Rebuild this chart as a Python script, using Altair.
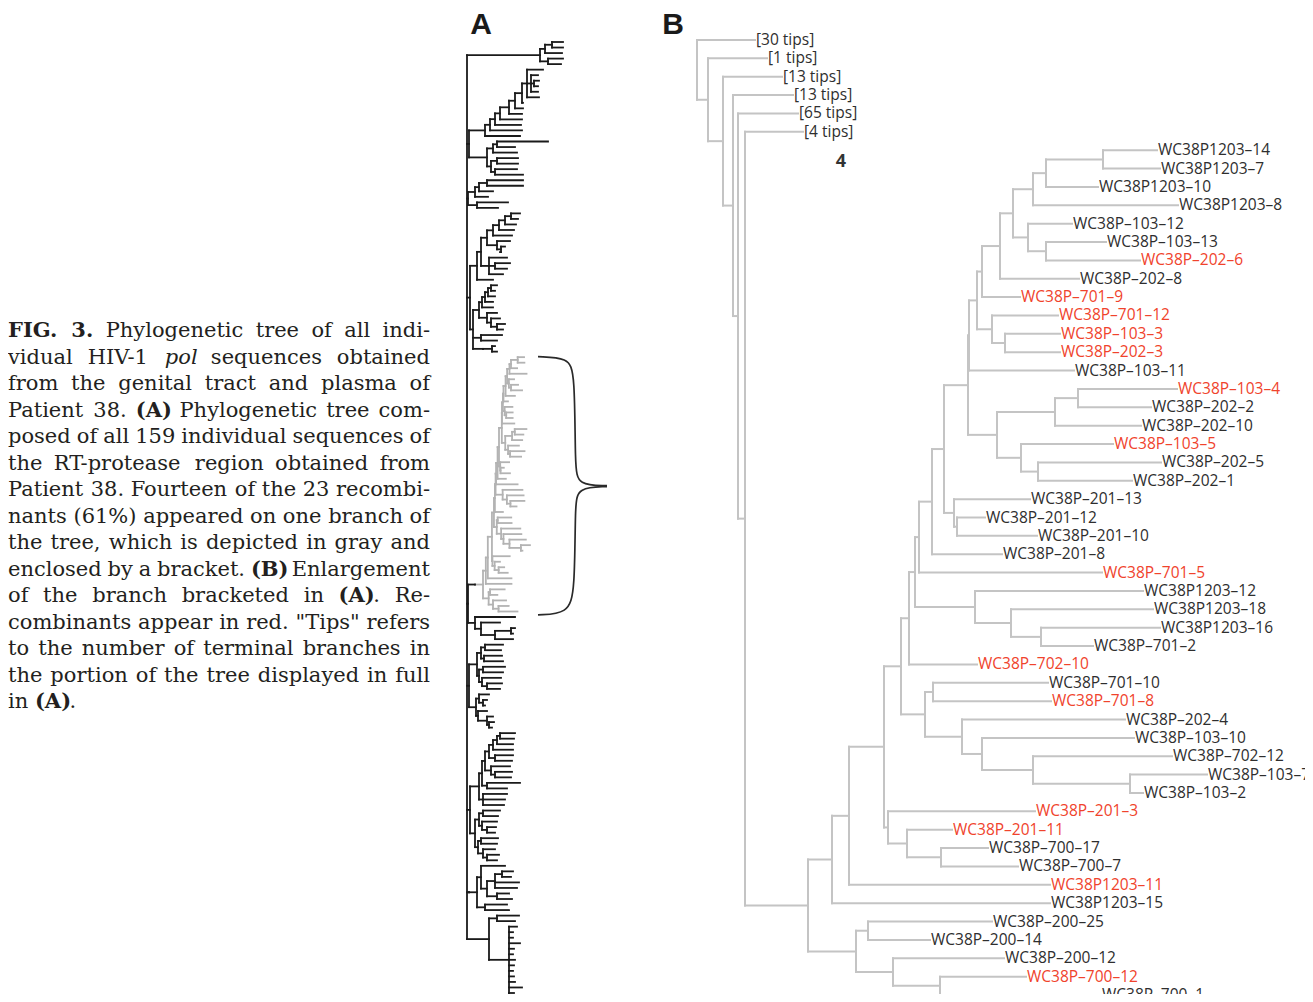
import altair as alt
import pandas as pd

# ======================= caption text =======================
# '*' toggles bold, '_' toggles italic
CAPTION_LINES = [
    "*FIG. 3.* Phylogenetic tree of all indi-",
    "vidual HIV-1 _pol_ sequences obtained",
    "from the genital tract and plasma of",
    "Patient 38. *(A)* Phylogenetic tree com-",
    "posed of all 159 individual sequences of",
    "the RT-protease region obtained from",
    "Patient 38. Fourteen of the 23 recombi-",
    "nants (61%) appeared on one branch of",
    "the tree, which is depicted in gray and",
    "enclosed by a bracket. *(B)* Enlargement",
    "of the branch bracketed in *(A)*. Re-",
    "combinants appear in red. \"Tips\" refers",
    "to the number of terminal branches in",
    "the portion of the tree displayed in full",
    "in *(A)*.",
]

# ======================= panel B =======================
B_COLLAPSED_LABELS = ["[30 tips]", "[1 tips]", "[13 tips]", "[13 tips]", "[65 tips]", "[4 tips]"]
B_COLLAPSED_DEPTH = [755, 767, 782, 793, 798, 803]

B_TIP_NAMES = [
    "WC38P1203-14", "WC38P1203-7", "WC38P1203-10", "WC38P1203-8", "WC38P-103-12",
    "WC38P-103-13", "WC38P-202-6", "WC38P-202-8", "WC38P-701-9", "WC38P-701-12",
    "WC38P-103-3", "WC38P-202-3", "WC38P-103-11", "WC38P-103-4", "WC38P-202-2",
    "WC38P-202-10", "WC38P-103-5", "WC38P-202-5", "WC38P-202-1", "WC38P-201-13",
    "WC38P-201-12", "WC38P-201-10", "WC38P-201-8", "WC38P-701-5", "WC38P1203-12",
    "WC38P1203-18", "WC38P1203-16", "WC38P-701-2", "WC38P-702-10", "WC38P-701-10",
    "WC38P-701-8", "WC38P-202-4", "WC38P-103-10", "WC38P-702-12", "WC38P-103-7",
    "WC38P-103-2", "WC38P-201-3", "WC38P-201-11", "WC38P-700-17", "WC38P-700-7",
    "WC38P1203-11", "WC38P1203-15", "WC38P-200-25", "WC38P-200-14", "WC38P-200-12",
    "WC38P-700-12", "WC38P-700-1",
]
B_TIP_DEPTH = [1157, 1160, 1098, 1178, 1072, 1106, 1140, 1079, 1020, 1058,
               1060, 1060, 1074, 1177, 1151, 1141, 1113, 1161, 1132, 1030,
               985, 1037, 1002, 1102, 1143, 1153, 1160, 1093, 977, 1048,
               1051, 1125, 1134, 1172, 1207, 1143, 1035, 952, 988, 1018,
               1050, 1050, 992, 930, 1004, 1026, 1101]
B_RECOMBINANT = [0, 0, 0, 0, 0, 0, 1, 0, 1, 1,
                 1, 1, 0, 1, 0, 0, 1, 0, 0, 0,
                 0, 0, 0, 1, 0, 0, 0, 0, 1, 0,
                 1, 0, 0, 0, 0, 0, 1, 1, 0, 0,
                 1, 0, 0, 0, 0, 1, 0]

# node = [node depth, children...]; int leaf = tip number (1-based)
B_CLADE = [808,
  [832,
    [849,
      [884,
        [901,
          [909,
            [915,
              [919,
                [932,
                  [944,
                    [968,
                      [969,
                        [977,
                          [982,
                            [1000,
                              [1013,
                                [1033, [1046, [1103, 1, 2], 3], 4],
                                [1028, 5, [1046, 6, 7]]],
                              8],
                            9],
                          [992, 10, [1005, 11, 12]]],
                        13],
                      [997, [1055, [1078, 14, 15], 16], [1021, 17, [1038, 18, 19]]]],
                    [954, 20, [957, 21, 22]]],
                  23],
                24],
              [975, 25, [1011, 26, [1041, 27, 28]]]],
            29],
          [925, [933, 30, 31], [962, 32, [982, 33, [1033, 34, [1130, 35, 36]]]]]],
        [888, 37, [907, 38, [941, 39, 40]]]],
      41],
    42],
  [856, [868, 43, 44], [893, 45, [940, 46, 47]]]]
B_TREE = [697, "c0", [708, "c1", [723, "c2", [733, "c3", [738, "c4", [745, "c5", B_CLADE]]]]]]

# ======================= panel A =======================
# node = [node depth, children...]; numeric leaf = tip end depth; "GRAY" = clade of panel B
A_TOP = [73, [78, [85, 96, 96], 95], [81, 96, 94]]
A_S2 = [60, 76, [64, 71, [67, 72, 71], 71], 72]
A_L = [18, [23, [28, [33, [42, [48, [55, A_S2, 56], 56], 55], 55], 54], 55], 53]
A_M1 = [20, [26, [30, 81, 48], 50], [24, [30, 51, 51], [28, 50, 56]]]
A_X6a = [8, [12, [20, 56, 56], 26], 21]
A_X6b = [10, 41, 31]
A_M2 = [10, [14, [20, [26, [32, [38, [44, 53, 51], 49], 47], 45], [30, 43, [34, 38, 33]]],
             [22, 40, [28, 43, 40], 36]], 26]
A_M3 = [6, [12, [15, [18, [21, [24, 30, 28], 28], 26], 26], [20, 30, [24, 33, [30, 38, 36]]]],
        [14, 35, 30], [16, [25, 28, 30]]]
A_C1 = [8, 48, [14, 33, [28, [44, 48, 46], 46]]]
A_C2 = [10, [14, [18, 36, 34], [17, 35, 36]], [12, [16, 38, 36], [15, 34, [20, 35, 33]]]]
A_C3 = [9, [12, 22, [16, 20, 18]], [11, 20, [20, 26, [22, 27, 25]]]]
A_C4 = [12, [15, [18, [22, [26, [30, [33, 48, 47], 46], 46], [28, 46, 45]], [24, 43, [28, 45, 44]]],
             [20, 53, 40]], [16, 40, 38, 37]]
A_C5 = [8, [12, [16, 33, 31], [15, 30, [20, 29, 28]]], [11, [14, 31, 30], [16, 28, [20, 32, 30]]]]
A_C6 = [10, [14, 38, [20, [28, [35, 46, 44], 52, 50], [30, 42, 45]]], [18, 40, 42]]
A_C7 = [22, [30, 52, 48], [42, 50, 46, 46, 53, 47, 46, 48, 47, 46, 47, 48, 55, 47]]
A_TREE = [0, A_TOP, [2, A_L, A_M1], [1, A_X6a, A_X6b], [3, A_M2, A_M3],
          [1, [8, "GRAY"], A_C1], [2, A_C2, A_C3], [3, A_C4, A_C5], [2, A_C6], A_C7]
# panel A draws the B clade at 1/8.5 of B's horizontal scale, rooted at depth 16
A_GRAY_ROOT, B_CLADE_ROOT, A_TO_B = 16, 808, 8.5

BRACKET_DEPTH = [71, 101, 108, 108, 111, 140, 140, 111, 108, 108, 101, 71]
BRACKET_ROW = [56.9, 57.1, 59.8, 77.0, 80.1, 80.25, 80.4, 80.6, 83.5, 99.3, 103.4, 103.6]
BRACKET_HALF = [0] * 6 + [1] * 6

# ======================= helpers =======================
def layout(tree, leaf, segs, leaves, st, grp="black"):
    if tree == "GRAY":
        return layout(to_a(B_CLADE), leaf, segs, leaves, st, "gray")
    if isinstance(tree, list):
        nx = tree[0]
        kids = [layout(c, leaf, segs, leaves, st, grp) for c in tree[1:]]
        ys = [k[1] for k in kids]
        segs.append(dict(x=nx, x2=nx, y=min(ys), y2=max(ys), grp=grp))
        for kx, ky, kg in kids:
            segs.append(dict(x=nx, x2=kx, y=ky, y2=ky, grp=kg))
        return nx, (ys[0] + ys[-1]) / 2.0, grp
    y = st[0]
    st[0] += 1
    rec = leaf(tree)
    rec["y"] = y
    leaves.append(rec)
    return rec["x"], y, grp


def to_a(node):
    if isinstance(node, list):
        return [A_GRAY_ROOT + (node[0] - B_CLADE_ROOT) / A_TO_B] + [to_a(c) for c in node[1:]]
    return A_GRAY_ROOT + (B_TIP_DEPTH[node - 1] - B_CLADE_ROOT) / A_TO_B


def b_leaf(v):
    if isinstance(v, str):
        i = int(v[1:])
        return dict(x=B_COLLAPSED_DEPTH[i], label=B_COLLAPSED_LABELS[i], kind="collapsed", rec="no")
    return dict(x=B_TIP_DEPTH[v - 1], label=B_TIP_NAMES[v - 1].replace("-", "\u2013"),
                kind="tip", rec="yes" if B_RECOMBINANT[v - 1] else "no")


def a_leaf(v):
    return dict(x=v)


segB, leavesB = [], []
layout(B_TREE, b_leaf, segB, leavesB, [0])
segA, leavesA = [], []
layout(A_TREE, a_leaf, segA, leavesA, [0])
nA = len(leavesA)
nB = len(leavesB)

# ---- caption layout (justified) ----
CAP_SIZE = 21
SERIF_W = {' ': .318, '!': .402, '"': .460, '%': .950, '(': .390, ')': .390, ',': .318,
           '-': .338, '.': .318, ':': .337}
for d in "0123456789":
    SERIF_W[d] = .636
SERIF_W.update(dict(zip("abcdefghijklmnopqrstuvwxyz",
    [.596, .640, .560, .640, .592, .370, .640, .644, .320, .310, .609, .320, .948,
     .644, .602, .640, .640, .478, .513, .402, .644, .565, .856, .565, .565, .523])))
SERIF_W.update(dict(zip("ABCDEFGHIJKLMNOPQRSTUVWXYZ",
    [.722, .735, .765, .802, .730, .694, .799, .872, .395, .401, .747, .664, 1.024,
     .875, .820, .673, .820, .753, .685, .667, .843, .722, 1.028, .712, .660, .695])))


def tw(t, s):
    f = 1.1 if s == "b" else (0.95 if s == "i" else 1.0)
    return sum(SERIF_W.get(c, .6) for c in t) * CAP_SIZE * f


def parse(line):
    runs, style, buf = [], "r", ""
    for ch in line:
        if ch in "*_":
            if buf:
                runs.append((buf, style))
                buf = ""
            mark = "b" if ch == "*" else "i"
            style = "r" if style == mark else mark
        else:
            buf += ch
    if buf:
        runs.append((buf, style))
    words = [[]]
    for text, s in runs:
        for k, p in enumerate(text.split(" ")):
            if k > 0:
                words.append([])
            if p:
                words[-1].append((p, s))
    return [w for w in words if w]


LEFT, RIGHT = 8, 430
cap_rows = []
for li, line in enumerate(CAPTION_LINES):
    words = parse(line)
    wl = [sum(tw(t, s) for t, s in w) for w in words]
    last = li == len(CAPTION_LINES) - 1
    if last or len(words) < 2:
        gap = SERIF_W[' '] * CAP_SIZE
    else:
        gap = (RIGHT - LEFT - sum(wl)) / (len(words) - 1)
    x = LEFT
    for wi, (w, width) in enumerate(zip(words, wl)):
        if (not last) and wi == len(words) - 1 and len(w) == 1:
            cap_rows.append(dict(line=li, px=RIGHT, txt=w[0][0], sty=w[0][1], al="right"))
        else:
            xx = x
            for t, s in w:
                cap_rows.append(dict(line=li, px=xx, txt=t, sty=s, al="left"))
                xx += tw(t, s)
        x += width + gap
cap_df = pd.DataFrame(cap_rows)

# ======================= charts =======================
layers = []

cap_x = alt.Scale(domain=[8, 448], range=[0, 440])
cap_y = alt.Scale(domain=[0, 14], range=[323, 694])
for sty, kw in [("r", {}), ("b", {"fontWeight": "bold"}), ("i", {"fontStyle": "italic"})]:
    for al in ["left", "right"]:
        sub = cap_df[(cap_df.sty == sty) & (cap_df.al == al)]
        if len(sub) == 0:
            continue
        layers.append(alt.Chart(sub).mark_text(
            align=al, baseline="middle", font="DejaVu Serif", fontSize=CAP_SIZE,
            color="#231f20", **kw).encode(
            x=alt.X("px:Q", scale=cap_x, axis=None),
            y=alt.Y("line:Q", scale=cap_y, axis=None),
            text="txt:N"))

# ---- panel A ----
a_x = alt.Scale(domain=[-19, 196], range=[440, 655])
a_y = alt.Scale(domain=[0, nA - 1], range=[34, 985])
layers.append(alt.Chart(pd.DataFrame(segA)).mark_rule(strokeWidth=1.8, strokeCap="square").encode(
    x=alt.X("x:Q", scale=a_x, axis=None), x2="x2:Q",
    y=alt.Y("y:Q", scale=a_y, axis=None), y2="y2:Q",
    color=alt.Color("grp:N", scale=alt.Scale(domain=["black", "gray"], range=["#1a1a1a", "#b3b3b3"]),
                    legend=None)))
bracket_df = pd.DataFrame({"d": BRACKET_DEPTH, "r": BRACKET_ROW, "half": BRACKET_HALF,
                           "k": list(range(len(BRACKET_ROW)))})
layers.append(alt.Chart(bracket_df).mark_line(interpolate="basis", color="#2a2a2a", strokeWidth=1.7).encode(
    x=alt.X("d:Q", scale=a_x, axis=None), y=alt.Y("r:Q", scale=a_y, axis=None),
    detail="half:N", order="k:Q"))
layers.append(alt.Chart(pd.DataFrame({"d": [14], "r": [-3.1], "t": ["A"]})).mark_text(
    font="Liberation Sans", fontWeight="bold", fontSize=30, baseline="middle", align="center",
    color="#1a1a1a").encode(
    x=alt.X("d:Q", scale=a_x, axis=None), y=alt.Y("r:Q", scale=a_y, axis=None), text="t:N"))

# ---- panel B ----
b_x = alt.Scale(domain=[663, 1305], range=[655, 1297])
b_y = alt.Scale(domain=[0, nB - 1], range=[32, 987])
layers.append(alt.Chart(pd.DataFrame(segB)).mark_rule(strokeWidth=2, strokeCap="square", color="#c4c4c4").encode(
    x=alt.X("x:Q", scale=b_x, axis=None), x2="x2:Q",
    y=alt.Y("y:Q", scale=b_y, axis=None), y2="y2:Q"))
layers.append(alt.Chart(pd.DataFrame(leavesB)).mark_text(
    align="left", baseline="middle", dx=1, font="Open Sans", fontSize=15.5).encode(
    x=alt.X("x:Q", scale=b_x, axis=None), y=alt.Y("y:Q", scale=b_y, axis=None),
    text="label:N",
    color=alt.Color("rec:N", scale=alt.Scale(domain=["no", "yes"], range=["#2e2e2e", "#f0432c"]),
                    legend=None)))
layers.append(alt.Chart(pd.DataFrame({"d": [841], "r": [6.64], "t": ["4"]})).mark_text(
    font="Open Sans", fontWeight="bold", fontSize=18, baseline="middle", align="center",
    color="#333333").encode(
    x=alt.X("d:Q", scale=b_x, axis=None), y=alt.Y("r:Q", scale=b_y, axis=None), text="t:N"))
layers.append(alt.Chart(pd.DataFrame({"d": [673], "r": [-0.82], "t": ["B"]})).mark_text(
    font="Liberation Sans", fontWeight="bold", fontSize=30, baseline="middle", align="center",
    color="#1a1a1a").encode(
    x=alt.X("d:Q", scale=b_x, axis=None), y=alt.Y("r:Q", scale=b_y, axis=None), text="t:N"))

chart = alt.layer(*layers).resolve_scale(
    x="independent", y="independent", color="independent"
).properties(
    width=1297, height=986, padding=0, autosize=alt.AutoSizeParams(type="none")
).configure_view(strokeWidth=0)

chart.save("out.html", embed_options={"renderer": "svg", "actions": False})
